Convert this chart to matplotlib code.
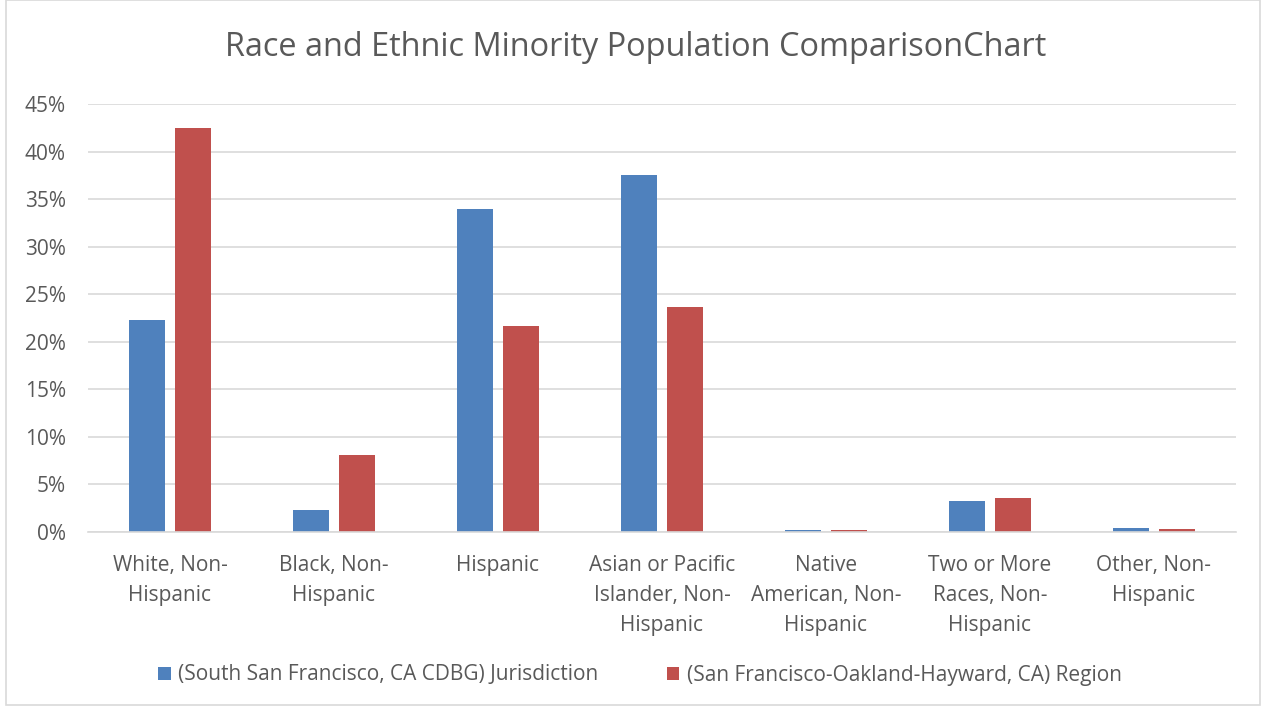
import numpy as np
import matplotlib.pyplot as plt
from matplotlib.patches import Rectangle

categories = ["White, Non-\nHispanic", "Black, Non-\nHispanic", "Hispanic",
              "Asian or Pacific\nIslander, Non-\nHispanic", "Native\nAmerican, Non-\nHispanic",
              "Two or More\nRaces, Non-\nHispanic", "Other, Non-\nHispanic"]
jurisdiction = [22.3, 2.3, 34.0, 37.5, 0.2, 3.3, 0.4]
region = [42.5, 8.1, 21.7, 23.7, 0.2, 3.6, 0.3]
series_names = ["(South San Francisco, CA CDBG) Jurisdiction",
                "(San Francisco-Oakland-Hayward, CA) Region"]

plt.rcParams['font.family'] = ['Open Sans', 'DejaVu Sans']
text_col = "#595959"

fig = plt.figure(figsize=(12.66, 7.11), dpi=100)
ax = fig.add_axes([88/1266, 1-532/711, (1236-88)/1266, (532-104)/711])

# outer chart border
fig.patches.append(Rectangle((6/1266, 6/711), 1254/1266, 705/711, transform=fig.transFigure,
                             fill=False, edgecolor="#d9d9d9", linewidth=1.2))

x = np.arange(len(categories))
w = 0.22
ax.bar(x - 0.031 - w/2, jurisdiction, w, color="#4f81bd", label=series_names[0])
ax.bar(x + 0.031 + w/2, region, w, color="#c0504d", label=series_names[1])

ax.set_xlim(-0.5, len(categories) - 0.5)
ax.set_ylim(0, 45)
ax.set_yticks(np.arange(0, 46, 5))
ax.set_yticklabels(["%d%%" % v for v in range(0, 46, 5)])
ax.set_xticks(x)
ax.set_xticklabels(categories, linespacing=1.55)
ax.tick_params(axis="both", length=0, labelsize=15, colors=text_col)
ax.tick_params(axis="y", pad=16)
ax.tick_params(axis="x", pad=16.5)
ax.grid(axis="y", color="#d9d9d9", linewidth=1.2)
ax.set_axisbelow(True)
for s in ["top", "right", "left"]:
    ax.spines[s].set_visible(False)
ax.spines["bottom"].set_color("#d9d9d9")
ax.spines["bottom"].set_linewidth(1.2)

fig.text(636/1266, 1-48/711, "Race and Ethnic Minority Population ComparisonChart",
         ha="center", va="center", fontsize=23.4, color=text_col)

fig.legend(loc="center", bbox_to_anchor=(640/1266, 1-675/711), ncol=2, frameon=False,
           fontsize=15, labelcolor=text_col, handlelength=0.6, handleheight=0.6,
           handletextpad=0.35, columnspacing=3.3)

plt.savefig("out.png", dpi=100)
